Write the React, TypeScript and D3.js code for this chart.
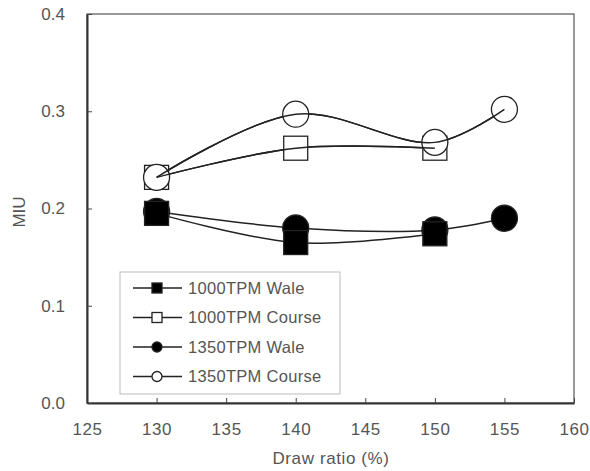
import { useEffect, useRef } from "react";
import * as d3 from "d3";

// chart data
const seriesNames = ["1000TPM Wale", "1000TPM Course", "1350TPM Wale", "1350TPM Course"];
const wale1000X = [130, 140, 150];
const wale1000Y = [0.195, 0.165, 0.174];
const course1000X = [130, 140, 150];
const course1000Y = [0.232, 0.262, 0.262];
const wale1350X = [130, 140, 150, 155];
const wale1350Y = [0.197, 0.18, 0.178, 0.19];
const course1350X = [130, 140, 150, 155];
const course1350Y = [0.232, 0.297, 0.268, 0.302];
const xTicks = [125, 130, 135, 140, 145, 150, 155, 160];
const yTicks = [0, 0.1, 0.2, 0.3, 0.4];

type Pt = { x: number; y: number };
const zip = (xs: number[], ys: number[]): Pt[] => xs.map((x, i) => ({ x, y: ys[i] }));

export default function App() {
  const svgRef = useRef<SVGSVGElement>(null);

  useEffect(() => {
    document.body.style.margin = "0";
    document.body.style.overflow = "hidden";

    const svg = d3.select(svgRef.current);
    svg.selectAll("*").remove();

    const width = 590;
    const height = 471;
    const margin = { top: 14, right: 16, bottom: 68, left: 87 };
    const font = "Arial, 'Liberation Sans', sans-serif";
    const textColor = "#555";

    const x = d3.scaleLinear().domain([125, 160]).range([margin.left, width - margin.right]);
    const y = d3.scaleLinear().domain([0, 0.4]).range([height - margin.bottom, margin.top]);

    svg.append("rect").attr("width", width).attr("height", height).attr("fill", "#fff");

    // plot frame
    svg
      .append("rect")
      .attr("x", margin.left)
      .attr("y", margin.top)
      .attr("width", width - margin.left - margin.right)
      .attr("height", height - margin.top - margin.bottom)
      .attr("fill", "none")
      .attr("stroke", "#555")
      .attr("stroke-width", 1.2);

    // axes, ticks pointing inward
    const xAxis = svg
      .append("g")
      .attr("transform", `translate(0,${height - margin.bottom})`)
      .call(d3.axisBottom(x).tickValues(xTicks).tickSizeInner(-5).tickSizeOuter(0).tickPadding(20));
    xAxis.select(".domain").attr("stroke", "#333").attr("stroke-width", 2);
    xAxis.selectAll("line").attr("stroke", "#444");
    xAxis
      .selectAll("text")
      .attr("font-family", font)
      .attr("font-size", 17)
      .attr("letter-spacing", 0.6)
      .attr("fill", textColor);

    const yAxis = svg
      .append("g")
      .attr("transform", `translate(${margin.left},0)`)
      .call(
        d3
          .axisLeft(y)
          .tickValues(yTicks)
          .tickFormat(d3.format(".1f"))
          .tickSizeInner(-5)
          .tickSizeOuter(0)
          .tickPadding(22)
      );
    yAxis.select(".domain").attr("stroke", "#333").attr("stroke-width", 2);
    yAxis.selectAll("line").attr("stroke", "#444");
    yAxis
      .selectAll("text")
      .attr("font-family", font)
      .attr("font-size", 17)
      .attr("fill", textColor);

    // axis titles
    svg
      .append("text")
      .attr("x", 331)
      .attr("y", 464)
      .attr("text-anchor", "middle")
      .attr("font-family", font)
      .attr("font-size", 17)
      .attr("fill", textColor)
      .attr("letter-spacing", 0.6)
      .text("Draw ratio (%)");

    svg
      .append("text")
      .attr("transform", `translate(25,212) rotate(-90)`)
      .attr("text-anchor", "middle")
      .attr("font-family", font)
      .attr("font-size", 17)
      .attr("fill", textColor)
      .text("MIU");

    const line = d3
      .line<Pt>()
      .x((d) => x(d.x))
      .y((d) => y(d.y))
      .curve(d3.curveCatmullRom.alpha(0.5));

    const series = [
      { name: seriesNames[0], pts: zip(wale1000X, wale1000Y), shape: "square", fill: "#000" },
      { name: seriesNames[1], pts: zip(course1000X, course1000Y), shape: "square", fill: "#fff" },
      { name: seriesNames[2], pts: zip(wale1350X, wale1350Y), shape: "circle", fill: "#000" },
      { name: seriesNames[3], pts: zip(course1350X, course1350Y), shape: "circle", fill: "#fff" },
    ];

    const drawMarker = (
      g: d3.Selection<SVGGElement, unknown, null, undefined>,
      cx: number,
      cy: number,
      shape: string,
      fill: string,
      size: number
    ) => {
      if (shape === "square") {
        g.append("rect")
          .attr("x", cx - size / 2)
          .attr("y", cy - size / 2)
          .attr("width", size)
          .attr("height", size)
          .attr("fill", fill)
          .attr("stroke", "#222")
          .attr("stroke-width", 1.3);
      } else {
        g.append("circle")
          .attr("cx", cx)
          .attr("cy", cy)
          .attr("r", size / 2)
          .attr("fill", fill)
          .attr("stroke", "#222")
          .attr("stroke-width", 1.3);
      }
    };

    const plot = svg.append("g");
    series.forEach((s) => {
      plot
        .append("path")
        .datum(s.pts)
        .attr("d", line)
        .attr("fill", "none")
        .attr("stroke", "#222")
        .attr("stroke-width", 1.5);
    });
    // filled circles, filled squares, open squares, open circles
    [2, 0, 1, 3].forEach((k) => {
      const s = series[k];
      const g = plot.append("g");
      s.pts.forEach((p) => drawMarker(g, x(p.x), y(p.y), s.shape, s.fill, s.shape === "square" ? 24 : 26));
    });
    // the lines show through the open markers
    series.forEach((s) => {
      if (s.fill === "#fff") {
        plot
          .append("path")
          .datum(s.pts)
          .attr("d", line)
          .attr("fill", "none")
          .attr("stroke", "#222")
          .attr("stroke-width", 1.5);
      }
    });

    // legend
    const lg = svg.append("g").attr("transform", "translate(120,272)");
    lg.append("rect")
      .attr("width", 220)
      .attr("height", 122)
      .attr("fill", "#fff")
      .attr("stroke", "#bbb")
      .attr("stroke-width", 1);
    series.forEach((s, i) => {
      const ry = 16 + i * 29.5;
      const row = lg.append("g");
      row.append("line")
        .attr("x1", 13)
        .attr("x2", 62)
        .attr("y1", ry)
        .attr("y2", ry)
        .attr("stroke", "#222")
        .attr("stroke-width", 1.5);
      drawMarker(row, 37, ry, s.shape, s.fill, 10);
      row.append("text")
        .attr("x", 68)
        .attr("y", ry)
        .attr("dy", "0.36em")
        .attr("font-family", font)
        .attr("font-size", 16.5)
        .attr("letter-spacing", 0.3)
        .attr("fill", textColor)
        .text(s.name);
    });
  }, []);

  return <svg ref={svgRef} width={590} height={471} style={{ display: "block" }} />;
}
